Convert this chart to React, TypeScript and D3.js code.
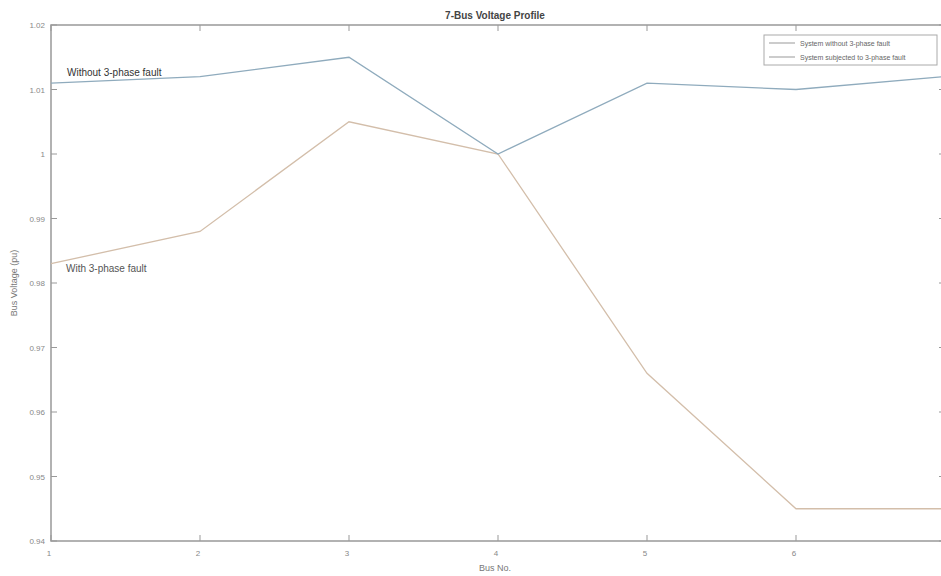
import React from 'react';
import * as d3 from 'd3';

// bus numbers and voltages (pu)
const buses = [1, 2, 3, 4, 5, 6, 7];
const withoutFault = [1.011, 1.012, 1.015, 1.0, 1.011, 1.01, 1.012];
const withFault = [0.983, 0.988, 1.005, 1.0, 0.966, 0.945, 0.945];
const yTicks = [0.94, 0.95, 0.96, 0.97, 0.98, 0.99, 1, 1.01, 1.02];
const xTicks = [1, 2, 3, 4, 5, 6];

const width = 941;
const height = 576;
const margin = { top: 25, right: -4, bottom: 35, left: 51 };

const App = () => {
  const x = d3
    .scaleLinear()
    .domain([1, 7])
    .range([margin.left, width - margin.right]);
  const y = d3
    .scaleLinear()
    .domain([0.94, 1.02])
    .range([height - margin.bottom, margin.top]);

  const line = d3
    .line<number>()
    .x((_, i) => x(buses[i]))
    .y((d) => y(d));

  const axisColor = '#999';
  const x0 = x(1);
  const x1 = x(7);
  const y0 = y(0.94);
  const y1 = y(1.02);

  return (
    <svg
      width={width}
      height={height}
      style={{ position: 'absolute', left: 0, top: 0, background: '#fff' }}
      fontFamily="Liberation Sans, Arial, sans-serif"
    >
      {/* axes box */}
      <rect x={x0} y={y1} width={x1 - x0} height={y0 - y1} fill="none" stroke={axisColor} strokeWidth={1.5} />

      {/* y ticks */}
      {yTicks.map((t) => (
        <g key={t}>
          <line x1={x0} x2={x0 + 6} y1={y(t)} y2={y(t)} stroke={axisColor} />
          <line x1={x1} x2={x1 - 6} y1={y(t)} y2={y(t)} stroke={axisColor} />
          <text x={x0 - 6} y={y(t) + 3} textAnchor="end" fontSize={8} fill="#888">
            {t === 1 ? '1' : t.toFixed(2)}
          </text>
        </g>
      ))}

      {/* x ticks */}
      {xTicks.map((t) => (
        <g key={t}>
          <line x1={x(t)} x2={x(t)} y1={y0} y2={y0 - 6} stroke={axisColor} />
          <line x1={x(t)} x2={x(t)} y1={y1} y2={y1 + 6} stroke={axisColor} />
          <text x={x(t) - 2} y={y0 + 15} textAnchor="middle" fontSize={8} fill="#888">
            {t}
          </text>
        </g>
      ))}

      {/* series */}
      <path d={line(withFault) || ''} fill="none" stroke="#d3beaa" strokeWidth={1.3} />
      <path d={line(withoutFault) || ''} fill="none" stroke="#8fabbd" strokeWidth={1.3} />

      {/* annotations */}
      <text x={67} y={76} fontSize={10} fill="#333">Without 3-phase fault</text>
      <text x={66} y={272} fontSize={10} fill="#555">With 3-phase fault</text>

      {/* title and axis labels */}
      <text x={495} y={19} textAnchor="middle" fontSize={10} fontWeight="bold" fill="#444">
        7-Bus Voltage Profile
      </text>
      <text x={495} y={571} textAnchor="middle" fontSize={9} fill="#777">
        Bus No.
      </text>
      <text
        transform={`translate(17, ${(y0 + y1) / 2}) rotate(-90)`}
        textAnchor="middle"
        fontSize={9}
        fill="#777"
      >
        Bus Voltage (pu)
      </text>

      {/* legend */}
      <rect x={764} y={35} width={173} height={30} fill="#fff" stroke="#aaa" />
      <line x1={769} x2={795} y1={43} y2={43} stroke="#999" />
      <line x1={769} x2={795} y1={57} y2={57} stroke="#999" />
      <text x={800} y={46} fontSize={7} fill="#666">System without 3-phase fault</text>
      <text x={800} y={60} fontSize={7} fill="#666">System subjected to 3-phase fault</text>
    </svg>
  );
};

export default App;
